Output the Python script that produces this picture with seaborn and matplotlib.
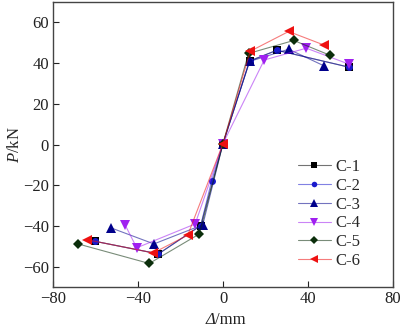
import matplotlib
matplotlib.use("Agg")
import matplotlib.pyplot as plt
import matplotlib.colors as mcolors
import seaborn as sns
import pandas as pd

labels = ["C-1", "C-2", "C-3", "C-4", "C-5", "C-6"]
c1_x = [-60.3, -30.4, -10.5, 0.0, 12.5, 25.4, 59.2]
c1_y = [-47.5, -53.7, -39.8, 0.5, 41.0, 46.3, 38.0]
c2_x = [-60.3, -30.4, -10.5, -5.4, 0.0, 12.5, 25.4, 59.2]
c2_y = [-47.5, -53.7, -39.8, -18.0, 0.5, 41.0, 46.3, 38.0]
c3_x = [-52.5, -32.5, -9.5, 0.0, 12.5, 30.9, 47.4]
c3_y = [-41.0, -48.8, -39.4, 0.5, 40.8, 46.8, 38.7]
c4_x = [-46.1, -40.6, -13.1, 0.0, 19.4, 39.2, 59.2]
c4_y = [-39.4, -50.7, -39.0, 0.5, 41.5, 47.3, 39.5]
c5_x = [-68.2, -34.7, -11.1, 0.0, 12.0, 33.3, 50.2]
c5_y = [-48.8, -58.4, -43.9, 0.5, 44.7, 51.1, 43.9]
c6_x = [-64.2, -32.8, -16.6, 0.0, 12.8, 30.9, 47.4]
c6_y = [-46.7, -53.2, -44.5, 0.5, 45.8, 55.5, 48.9]

xs = [c1_x, c2_x, c3_x, c4_x, c5_x, c6_x]
ys = [c1_y, c2_y, c3_y, c4_y, c5_y, c6_y]
colors = ["#000000", "#1a1acc", "#00008b", "#a020f0", "#0b2e0b", "#ee1111"]
markers = ["s", "o", "^", "v", "D", "<"]
msizes = [5.5, 5, 6.5, 6.5, 5.5, 6.5]

x_ticks = [-80, -40, 0, 40, 80]
y_ticks = [-60, -40, -20, 0, 20, 40, 60]

sns.set_style("white")
plt.rcParams["font.family"] = ["Liberation Serif", "DejaVu Serif"]
plt.rcParams["mathtext.fontset"] = "custom"
plt.rcParams["mathtext.rm"] = "Liberation Serif"
plt.rcParams["mathtext.it"] = "Liberation Serif:italic"

fig = plt.figure(figsize=(4.0, 3.27), dpi=100)
ax = fig.add_axes([0.1325, 0.122, 0.85, 0.872])

for lab, x, y, c, m, ms in zip(labels, xs, ys, colors, markers, msizes):
    df = pd.DataFrame({"x": x, "y": y})
    lc = mcolors.to_rgba(c, 0.55)
    sns.lineplot(data=df, x="x", y="y", sort=False, estimator=None, ax=ax,
                 color=lc, marker=m, markersize=ms, markeredgewidth=0,
                 markerfacecolor=c, linewidth=0.8, label=lab)

ax.set_xlim(-80, 80)
ax.set_ylim(-70, 70)
ax.set_xticks(x_ticks)
ax.set_yticks(y_ticks)
ax.set_xticklabels([str(t).replace("-", "\u2212") for t in x_ticks])
ax.set_yticklabels([str(t).replace("-", "\u2212") for t in y_ticks])
ax.tick_params(direction="in", length=4, width=0.8, labelsize=12, pad=3,
               bottom=True, left=True, top=False, right=False, colors="#222222")
for sp in ax.spines.values():
    sp.set_color("#444444")
    sp.set_linewidth(1.0)

ax.set_xlabel("")
t1 = fig.text(215 / 400, 0.01, "\u0394", fontsize=12, style="italic",
              ha="right", va="baseline", color="#222222")
ax.annotate("/mm", xy=(1.0, 0.0), xycoords=t1, fontsize=12, ha="left",
            va="bottom", color="#222222", annotation_clip=False)
ax.set_ylabel("$\\mathit{P}$/kN", fontsize=12, labelpad=0)

leg = ax.legend(loc="lower right", bbox_to_anchor=(0.925, 0.04), frameon=False,
                fontsize=12, handlelength=2.0, handletextpad=0.3,
                labelspacing=0.17, markerscale=0.8, borderaxespad=0.0)
for line in leg.get_lines():
    line.set_linewidth(0.8)

fig.savefig("out.png", dpi=100)
